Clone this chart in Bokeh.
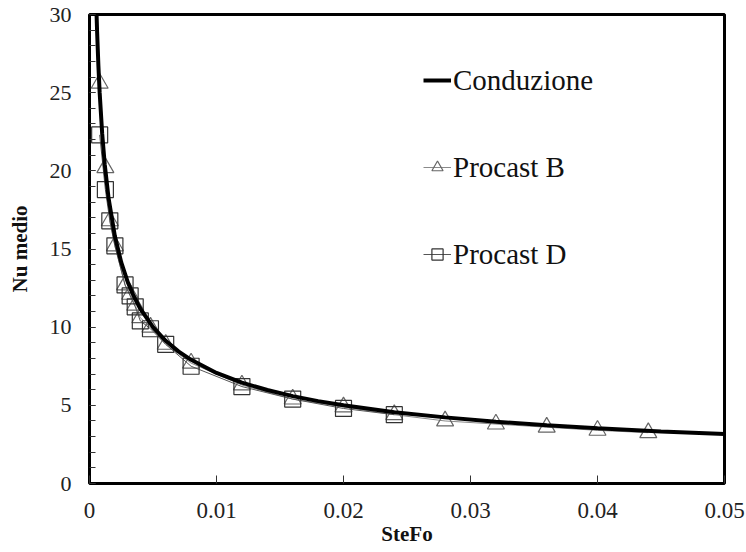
from bokeh.plotting import figure
from bokeh.models import Legend, LegendItem, FixedTicker, CustomJSTickFormatter
from bokeh.embed import file_html
from bokeh.resources import INLINE

# Conduzione
stefo_cond = [0.00055, 0.0006, 0.0007, 0.0008, 0.001, 0.0012, 0.0015, 0.002, 0.0025, 0.003,
              0.0035, 0.004, 0.005, 0.006, 0.007, 0.008, 0.01, 0.012, 0.014, 0.016,
              0.018, 0.02, 0.024, 0.028, 0.032, 0.036, 0.04, 0.045, 0.05]
nu_cond = [30.15, 28.87, 26.73, 25.0, 22.36, 20.41, 18.26, 15.81, 14.14, 12.91,
           11.95, 11.18, 10.0, 9.13, 8.45, 7.91, 7.07, 6.45, 5.98, 5.59,
           5.27, 5.0, 4.56, 4.23, 3.95, 3.73, 3.54, 3.33, 3.16]

# Procast B
stefo_b = [0.0008, 0.00125, 0.0016, 0.002, 0.0028, 0.0032, 0.0036, 0.004, 0.0048, 0.006,
           0.008, 0.012, 0.016, 0.02, 0.024, 0.028, 0.032, 0.036, 0.04, 0.044]
nu_b = [25.6, 20.2, 16.8, 15.2, 12.7, 12.1, 11.4, 10.6, 10.0, 8.9,
        7.7, 6.3, 5.4, 4.9, 4.4, 4.0, 3.8, 3.6, 3.4, 3.25]

# Procast D
stefo_d = [0.0008, 0.00125, 0.0016, 0.002, 0.0028, 0.0032, 0.0036, 0.004, 0.0048, 0.006,
           0.008, 0.012, 0.016, 0.02, 0.024]
nu_d = [22.3, 18.8, 16.8, 15.2, 12.7, 12.0, 11.3, 10.4, 9.9, 8.9,
        7.5, 6.2, 5.4, 4.8, 4.4]

x_ticks = [0, 0.01, 0.02, 0.03, 0.04, 0.05]
y_ticks = [0, 5, 10, 15, 20, 25, 30]
y_minor = list(range(0, 31))

FONT = "Liberation Serif"

p = figure(width=746, height=552, x_range=(0, 0.05), y_range=(0, 30),
           output_backend="svg", toolbar_location=None,
           min_border_left=89, min_border_right=22, min_border_top=14, min_border_bottom=69)
p.background_fill_color = "white"
p.border_fill_color = "white"
p.outline_line_color = "black"
p.outline_line_width = 3
p.xgrid.visible = False
p.ygrid.visible = False

# x axis
xa = p.xaxis[0]
xa.ticker = FixedTicker(ticks=x_ticks, minor_ticks=[])
xa.formatter = CustomJSTickFormatter(code="return tick === 0 ? '0' : tick.toFixed(2);")
xa.axis_line_color = None
xa.major_tick_in = 8
xa.major_tick_out = 0
xa.major_tick_line_color = "#333333"
xa.minor_tick_line_color = None
xa.major_label_standoff = 19
xa.major_label_text_font = FONT
xa.major_label_text_font_style = "normal"
xa.major_label_text_font_size = "23px"
xa.major_label_text_color = "#222222"
xa.axis_label = "SteFo"
xa.axis_label_text_font = FONT
xa.axis_label_text_font_style = "bold"
xa.axis_label_text_font_size = "21px"
xa.axis_label_text_color = "#111111"
xa.axis_label_standoff = 1

# y axis
ya = p.yaxis[0]
ya.ticker = FixedTicker(ticks=y_ticks, minor_ticks=y_minor)
ya.axis_line_color = None
ya.major_tick_in = 6
ya.major_tick_out = 0
ya.minor_tick_in = 6
ya.minor_tick_out = 0
ya.major_tick_line_color = "#333333"
ya.minor_tick_line_color = "#333333"
ya.major_label_standoff = 18
ya.major_label_text_font = FONT
ya.major_label_text_font_style = "normal"
ya.major_label_text_font_size = "22px"
ya.major_label_text_color = "#222222"
ya.axis_label = "Nu medio"
ya.axis_label_text_font = FONT
ya.axis_label_text_font_style = "bold"
ya.axis_label_text_font_size = "21px"
ya.axis_label_text_color = "#111111"
ya.axis_label_standoff = 15

# series
lb = p.line(stefo_b, nu_b, line_color="#8a8a8a", line_width=1)
sb = p.scatter(stefo_b, nu_b, marker="triangle", size=17, fill_color=None,
               line_color="#666666", line_width=1.2)
ld = p.line(stefo_d, nu_d, line_color="#555555", line_width=1)
sd = p.scatter(stefo_d, nu_d, marker="square", size=16, fill_color=None,
               line_color="#333333", line_width=1.2)
lc = p.line(stefo_cond, nu_cond, line_color="black", line_width=4)

legend = Legend(items=[LegendItem(label="Conduzione", renderers=[lc]),
                       LegendItem(label="Procast B", renderers=[lb, sb]),
                       LegendItem(label="Procast D", renderers=[ld, sd])],
                location=(334, 209), orientation="vertical",
                border_line_color=None, background_fill_alpha=0,
                label_text_font=FONT, label_text_font_style="normal",
                label_text_font_size="29px",
                label_text_color="#111111",
                glyph_width=28, glyph_height=40, label_height=40,
                label_standoff=2, spacing=47, padding=0, margin=0)
p.add_layout(legend)

open("out.html", "w").write(file_html(p, INLINE))
